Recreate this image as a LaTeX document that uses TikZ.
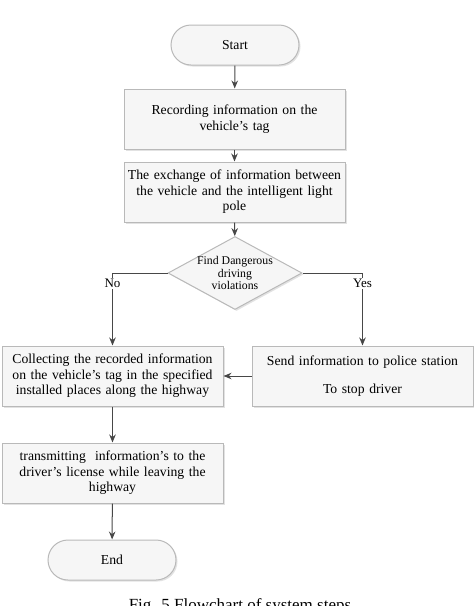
\documentclass[tikz,border=0pt]{standalone}
\usepackage{fontspec}
\setmainfont{Liberation Serif}
\usetikzlibrary{arrows.meta,shapes.geometric,shapes.misc,shadows}

\tikzset{
  box/.style={draw=gray!55, fill=gray!7, drop shadow={shadow xshift=1.5pt, shadow yshift=-1.5pt, fill=gray!45},
    minimum width=221pt, minimum height=60pt, inner xsep=1pt, text width=219pt, align=center,
    font=\fontsize{13.7}{15.5}\selectfont},
  term/.style={box, rounded rectangle, minimum width=130pt, minimum height=40pt, text width=},
  decide/.style={box, diamond, aspect=1.84, inner sep=-2pt, minimum width=134pt, minimum height=73pt,
    text width=, font=\fontsize{11.8}{12.7}\selectfont},
  lab/.style={font=\fontsize{13}{14}\selectfont, inner sep=1.5pt, fill=white}
}

\begin{document}
\begin{tikzpicture}[x=1pt, y=-1pt, ->, >={Stealth[length=8pt,width=6.5pt]}, draw=black!72, line width=1pt]
  \useasboundingbox (0,0) rectangle (474,606);
  \node[term] (start) at (235,45) {Start};
  \node[box] (rec) at (234.5,119) {Recording information on the\\ vehicle's tag};
  \node[box] (exch) at (234.5,192) {The exchange of information between\\ the vehicle and the intelligent light\\ pole};
  \node[decide] (dec) at (235,273) {Find Dangerous\\ driving\\ violations};
  \node[box, minimum width=219pt] (coll) at (112.5,376) {Collecting the recorded information\\ on the vehicle's tag in the specified\\ installed places along the highway};
  \node[box] (send) at (362.5,376) {Send information to police station\\[12pt] To stop driver};
  \node[box, minimum width=219pt] (trans) at (112.5,473) {transmitting\ \ information's to the\\ driver's license while leaving the\\ highway};
  \node[term] (end) at (112,560) {End};
  \node[anchor=north, inner sep=0pt, font=\fontsize{17}{19}\selectfont] (cap) at (240,598) {Fig. 5 Flowchart of system steps};
  \path
  (start) edge (rec)
  (rec) edge (exch)
  (exch) edge (dec)
  (send) edge (coll)
  (coll) edge (trans)
  (trans) edge (end);
  \draw (dec.west) -| node[lab, pos=0.53, below] {No} (coll.north);
  \draw (dec.east) -| node[lab, pos=0.53, below] {Yes} (send.north);
\end{tikzpicture}
\end{document}
